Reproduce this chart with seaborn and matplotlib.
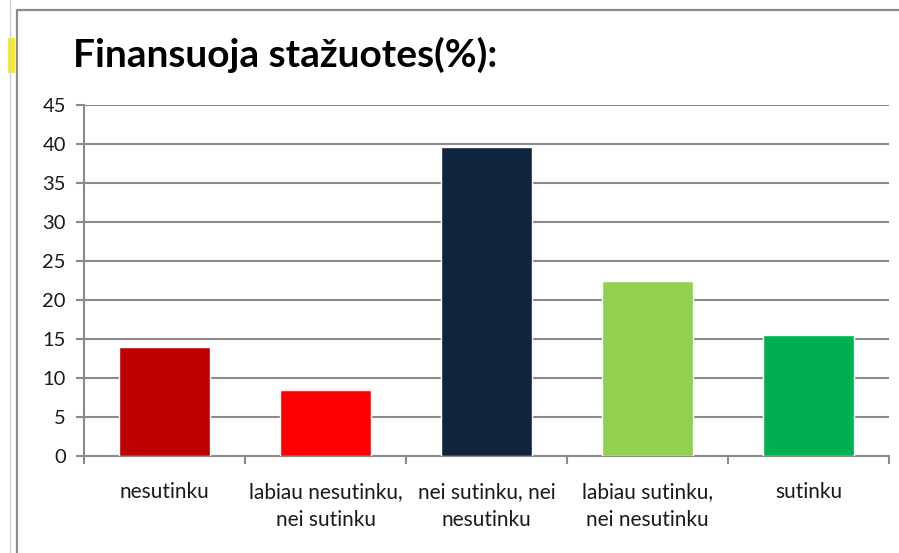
#!/usr/bin/env python3
"""Excel-style bar chart: Finansuoja stažuotes (%)."""

import matplotlib.pyplot as plt
import numpy as np
import pandas as pd
import seaborn as sns
from matplotlib.lines import Line2D
from matplotlib.patches import Rectangle

categories = [
    "nesutinku",
    "labiau nesutinku,\nnei sutinku",
    "nei sutinku, nei\nnesutinku",
    "labiau sutinku,\nnei nesutinku",
    "sutinku",
]
values = [14.0, 8.5, 39.6, 22.5, 15.5]
colors = ["#C00000", "#FF0000", "#10243E", "#92D050", "#00B050"]
y_ticks = list(range(0, 50, 5))

FONT = ["Lato", "DejaVu Sans"]
GRID = "#8a8a8a"


def main() -> None:
    sns.set_theme(style="white")
    plt.rcParams["font.family"] = FONT

    df = pd.DataFrame({"cat": categories, "val": values})

    W, H = 899, 553
    fig = plt.figure(figsize=(W / 100, H / 100), dpi=100)

    # spreadsheet leftovers around the chart object
    fig.add_artist(Line2D([10 / W, 10 / W], [0, 1], color="#c9d3e0", lw=1))
    fig.add_artist(Rectangle((8 / W, 1 - 73 / H), 7 / W, 35 / H, color="#FFEF00", lw=0))
    fig.add_artist(Line2D([16.5 / W, 16.5 / W], [0, 1 - 9.5 / H], color="#8c8c8c", lw=1.6))
    fig.add_artist(Line2D([16.5 / W, 1], [1 - 9.5 / H, 1 - 9.5 / H], color="#8c8c8c", lw=1.6))

    ax = fig.add_axes([84 / W, 1 - 456 / H, (889 - 84) / W, (456 - 105) / H])
    sns.barplot(data=df, x="cat", y="val", hue="cat", palette=colors, legend=False,
                width=0.57, saturation=1, ax=ax, zorder=3)

    ax.set_ylim(0, 45)
    ax.set_xlim(-0.5, len(categories) - 0.5)
    ax.set_yticks(y_ticks)
    ax.yaxis.grid(True, color=GRID, lw=1.5, zorder=0)
    ax.set_axisbelow(True)

    for side in ("top", "right"):
        ax.spines[side].set_visible(False)
    for side in ("left", "bottom"):
        ax.spines[side].set_color(GRID)
        ax.spines[side].set_linewidth(1.5)

    ax.tick_params(axis="y", length=6, width=1.5, color=GRID, direction="out",
                   left=True, labelsize=14.5, pad=7, labelcolor="#1a1a1a")
    ax.set_xticks(np.arange(len(categories)))
    ax.set_xticklabels(categories, fontsize=15, color="#1a1a1a", linespacing=1.45)
    ax.tick_params(axis="x", which="major", length=0, pad=19)
    ax.set_xticks(np.arange(len(categories) + 1) - 0.5, minor=True)
    ax.tick_params(axis="x", which="minor", length=6, width=1.5, color=GRID,
                   direction="out", bottom=True)
    ax.set_xlabel("")
    ax.set_ylabel("")

    fig.text(73 / W, 1 - 55 / H, "Finansuoja stažuotes(%):", fontsize=28,
             fontweight="bold", va="center", ha="left", color="#000000")

    fig.savefig("out.png", dpi=100)
    plt.close(fig)


if __name__ == "__main__":
    main()
